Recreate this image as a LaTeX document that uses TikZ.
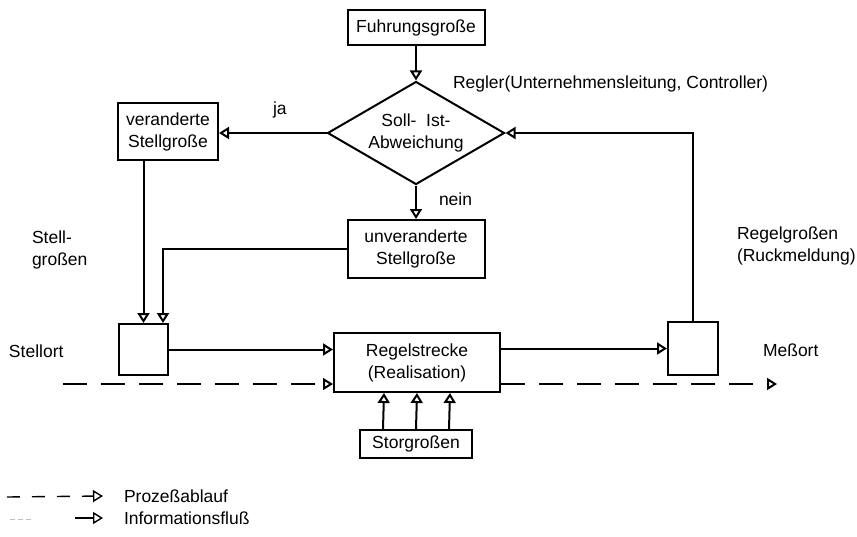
\documentclass[tikz,border=0pt]{standalone}
\usepackage{fontspec}
\setmainfont{Liberation Sans}
\usetikzlibrary{arrows.meta,shapes.geometric,calc}

\begin{document}
\begin{tikzpicture}[x=1pt,y=-1pt,line width=2pt,
		>={Triangle[open,length=10pt,width=12pt]},
		every node/.style={font=\fontsize{17.5}{22}\selectfont},
		kasten/.style={draw,rectangle,align=center,inner sep=0pt},
		txt/.style={align=left,anchor=west,inner sep=0pt},
		ablauf/.style={dash pattern=on 24pt off 14pt}]
		\useasboundingbox (0,0) rectangle (857,536);
		
		% Draw boxes of the control loop
		\node[kasten,minimum width=137pt,minimum height=35pt] (fuehrung) at (416,27.5) {Fuhrungsgroße};
		\node[draw,diamond,aspect=1.72,minimum width=177pt,minimum height=103pt,inner sep=0pt,align=center] (soll) at (416,133) {Soll-\ \ Ist-\\Abweichung};
		\node[kasten,minimum width=100pt,minimum height=57pt] (veraendert) at (168,131.5) {veranderte\\Stellgroße};
		\node[kasten,minimum width=137pt,minimum height=58pt] (unveraendert) at (416,249) {unveranderte\\Stellgroße};
		\node[kasten,minimum width=49pt,minimum height=51pt] (stellort) at (143.5,349.5) {};
		\node[kasten,minimum width=166pt,minimum height=59pt] (strecke) at (417,362.5) {Regelstrecke\\(Realisation)};
		\node[kasten,minimum width=50pt,minimum height=53pt] (messort) at (693,348.5) {};
		\node[kasten,minimum width=112pt,minimum height=28pt] (stoer) at (416,444) {Storgroßen};
		
		% Labels
		\node[txt] (ja) at (272,110) {ja};
		\node[txt] (nein) at (438,199) {nein};
		\node[txt] (regler) at (452,84) {Regler(Unternehmensleitung, Controller)};
		\node[txt] (stellgr) at (31,250) {Stell-\\großen};
		\node[txt] (stellorttxt) at (8,351) {Stellort};
		\node[txt] (regelgr) at (736,246) {Regelgroßen\\(Ruckmeldung)};
		\node[txt] (messorttxt) at (762,350) {Meßort};
		
		% Information flow
		\draw[->] (fuehrung) -- (soll);
		\draw[->] (soll.west) -- (soll.west -| veraendert.east);
		\draw[->] (soll.south) -- (unveraendert.north);
		\draw[->] (veraendert.south -| stellort.north) -- (stellort.north);
		\coordinate (stellein) at ($(stellort.north east)+(-6,0)$);
		\draw[->] (unveraendert.west) -| (stellein);
		\draw[->] (stellort.east) -- (stellort.east -| strecke.west);
		\draw[->] (strecke.east |- messort.west) -- (messort.west);
		\draw[->] (messort.north) |- (soll.east);
		\foreach \dx in {-33,0,33}
			\draw[->] ($(stoer.north)+(\dx,0)$) -- ($(strecke.south)+(\dx,0)$);
		
		% Process flow
		\coordinate (pstart) at (63,384);
		\coordinate (pend) at (777,384);
		\draw[->,ablauf] (pstart) -- (pstart -| strecke.west);
		\draw[->,ablauf] (pstart -| strecke.east) -- (pend);
		
		% Legend
		\node[txt] (prozess) at (123,496) {Prozeßablauf};
		\node[txt] (info) at (123,518) {Informationsfluß};
		\coordinate (lp) at (7,497);
		\coordinate (li) at (10,519);
		\draw[->,line width=1.4pt,dash pattern=on 13pt off 12pt] (lp) -- ($(prozess.west)+(-20,0)$);
		\draw[gray!50,line width=0.6pt,dash pattern=on 5pt off 3pt] (li) -- +(22,0);
		\draw[->,line width=1.4pt] ($(info.west)+(-48,0)$) -- ($(info.west)+(-20,0)$);
\end{tikzpicture}
\end{document}
